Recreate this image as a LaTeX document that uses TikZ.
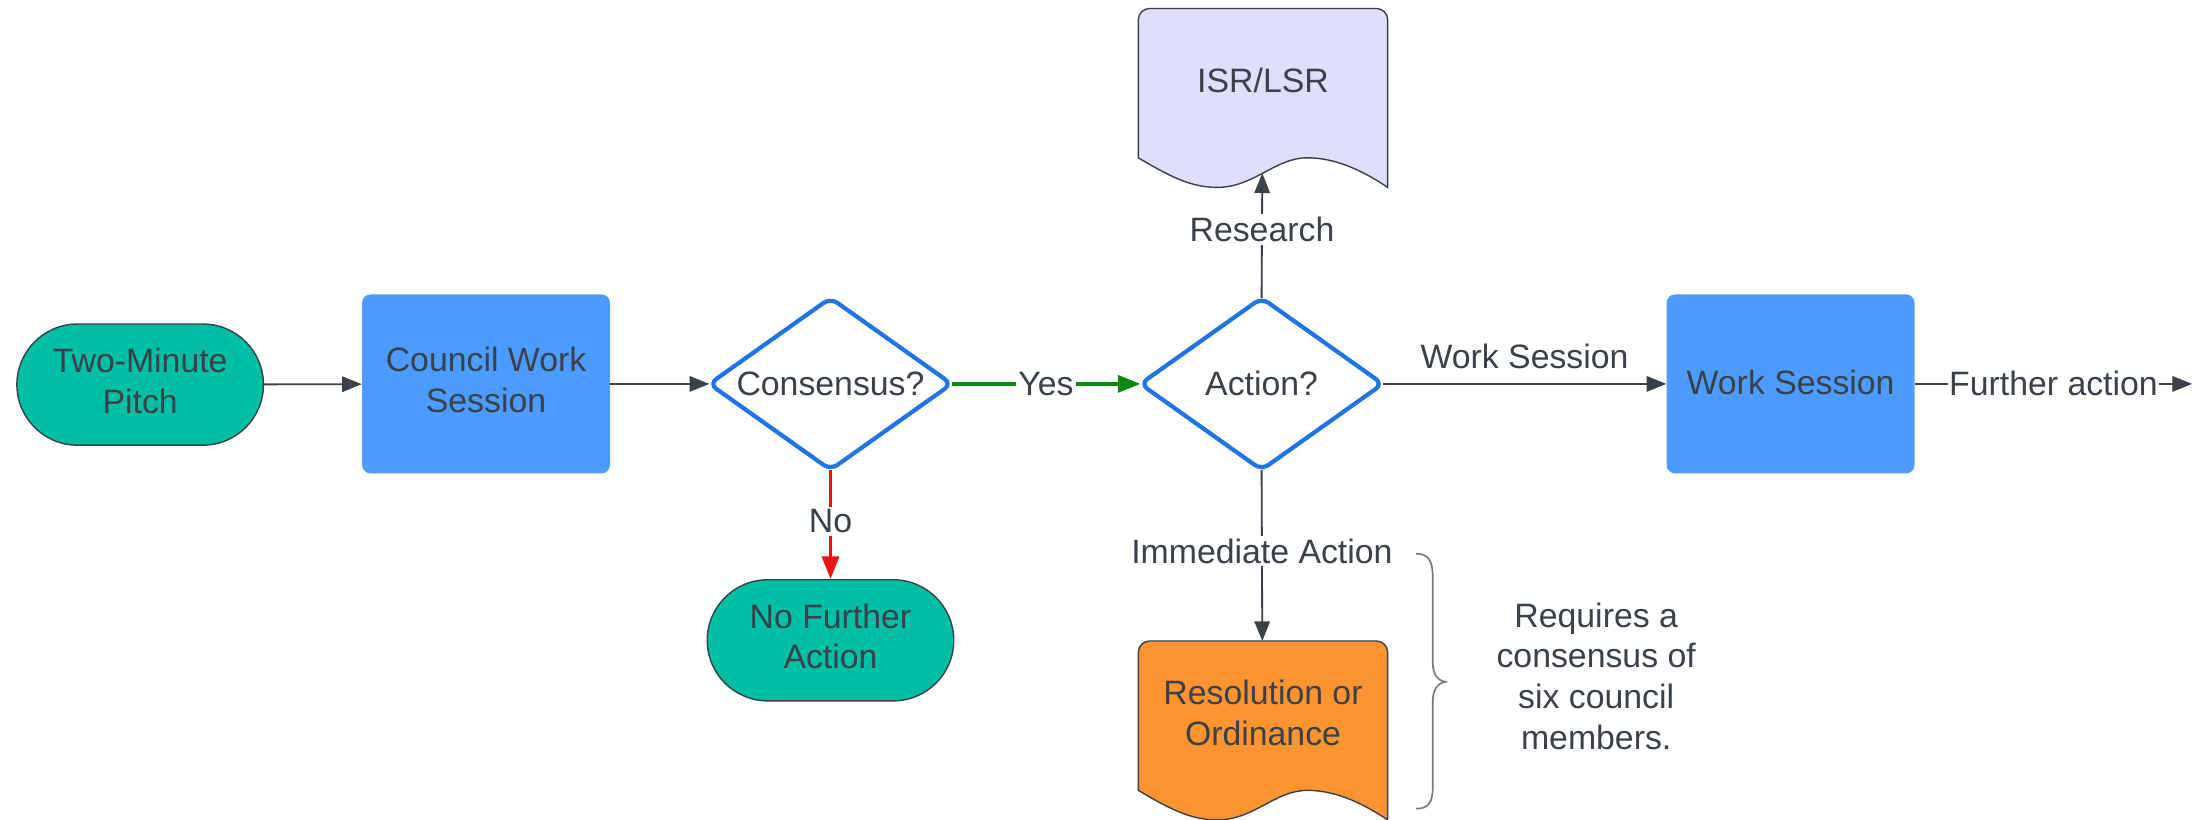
\documentclass[tikz,border=0pt]{standalone}
\usepackage{fontspec}
\setmainfont{Liberation Sans}
\usetikzlibrary{shapes.geometric,arrows.meta}
\definecolor{txt}{HTML}{3A414A}
\definecolor{teal}{HTML}{00BFA5}
\definecolor{boxblue}{HTML}{4C9BFF}
\definecolor{dstroke}{HTML}{1F74EA}
\definecolor{lav}{HTML}{DEDEFF}
\definecolor{orng}{HTML}{FC9432}
\definecolor{grn}{HTML}{048A0C}
\definecolor{rd}{HTML}{E81313}
\begin{document}
\begin{tikzpicture}[x=1pt,y=-1pt,
  every node/.style={text=txt,font=\fontsize{24}{29}\selectfont,align=center},
  stadium/.style={draw=txt,line width=1pt,fill=teal,rounded corners=43pt,minimum width=175pt,minimum height=86pt,inner sep=0pt},
  bluebox/.style={fill=boxblue,rounded corners=6pt,minimum width=176pt,minimum height=127pt,inner sep=0pt},
  decision/.style={diamond,draw=dstroke,line width=3pt,fill=white,rounded corners=6pt,minimum width=172pt,minimum height=122pt,inner sep=0pt,outer sep=0pt},
  conn/.style={draw=txt,line width=1.3pt,-{Triangle[length=14pt,width=11pt]}},
  lbl/.style={fill=white,inner sep=2pt}
]
\useasboundingbox (0,0) rectangle (1568,582);

% nodes
\node[stadium] (pitch) at (99.5,273) {\raisebox{2pt}{\begin{tabular}{@{}c@{}}Two-Minute\\Pitch\end{tabular}}};
\node[bluebox] (council) at (345,272.5) {\raisebox{2pt}{\begin{tabular}{@{}c@{}}Council Work\\Session\end{tabular}}};
\node[decision] (cons) at (589.5,272.5) {};
\node at (cons) {Consensus?};
\node[decision] (act) at (895.5,272.5) {};
\node at (act) {Action?};
\node[bluebox] (ws) at (1271,272.5) {\raisebox{2pt}{Work Session}};
\node[stadium] (nfa) at (589.5,454.5) {\raisebox{2pt}{\begin{tabular}{@{}c@{}}No Further\\Action\end{tabular}}};

% ISR/LSR document
\draw[draw=txt,line width=1pt,fill=lav,rounded corners=8pt]
  (808,112) -- (808,6) -- (985,6) [sharp corners] -- (985,133)
  .. controls (970,123) and (950,112) .. (928,112)
  .. controls (905,112) and (890,133) .. (864,133)
  .. controls (845,133) and (830,125) .. (808,112) -- cycle;
\node (isr) at (896.5,57) {ISR/LSR};
\coordinate (isrb) at (896,123);

% Resolution document
\draw[draw=txt,line width=1pt,fill=orng,rounded corners=8pt]
  (808,561) -- (808,455) -- (985,455) [sharp corners] -- (985,582)
  .. controls (970,572) and (950,561) .. (928,561)
  .. controls (905,561) and (890,582) .. (864,582)
  .. controls (845,582) and (830,574) .. (808,561) -- cycle;
\node (res) at (896.5,506) {Resolution or\\Ordinance};
\coordinate (rest) at (896,455);

% connectors
\draw[conn] (pitch) -- (council);
\draw[conn] (council) -- (cons);
\draw[conn,draw=grn,line width=2.5pt,-{Triangle[length=16pt,width=12pt]}] (cons.east) -- node[lbl] {Yes} (act.west);
\draw[conn,draw=rd,line width=2.5pt,-{Triangle[length=16pt,width=12pt]}] (cons.south) -- node[lbl,pos=0.47] {No} (nfa.north);
\draw[conn] (act.north) -- node[lbl,pos=0.55] {Research} (isrb);
\draw[conn] (act.south) -- node[lbl,pos=0.475] {Immediate Action} (rest);
\draw[conn] (act.east) -- node[above=10pt,inner sep=0pt] {Work Session} (ws.west);
\coordinate (fend) at (1556,272.5);
\draw[conn] (ws.east) -- node[lbl,inner sep=1pt] {Further action} (fend);

% brace and note
\draw[draw=txt!70,line width=1.2pt]
  (1005,393) .. controls (1014,393) and (1017,398) .. (1017,410) -- (1017,470)
  .. controls (1017,478) and (1020,483) .. (1026,484)
  .. controls (1020,485) and (1017,490) .. (1017,498) -- (1017,558)
  .. controls (1017,570) and (1014,574) .. (1005,574);
\node (note) at (1133,480) {Requires a\\consensus of\\six council\\members.};
\end{tikzpicture}
\end{document}
